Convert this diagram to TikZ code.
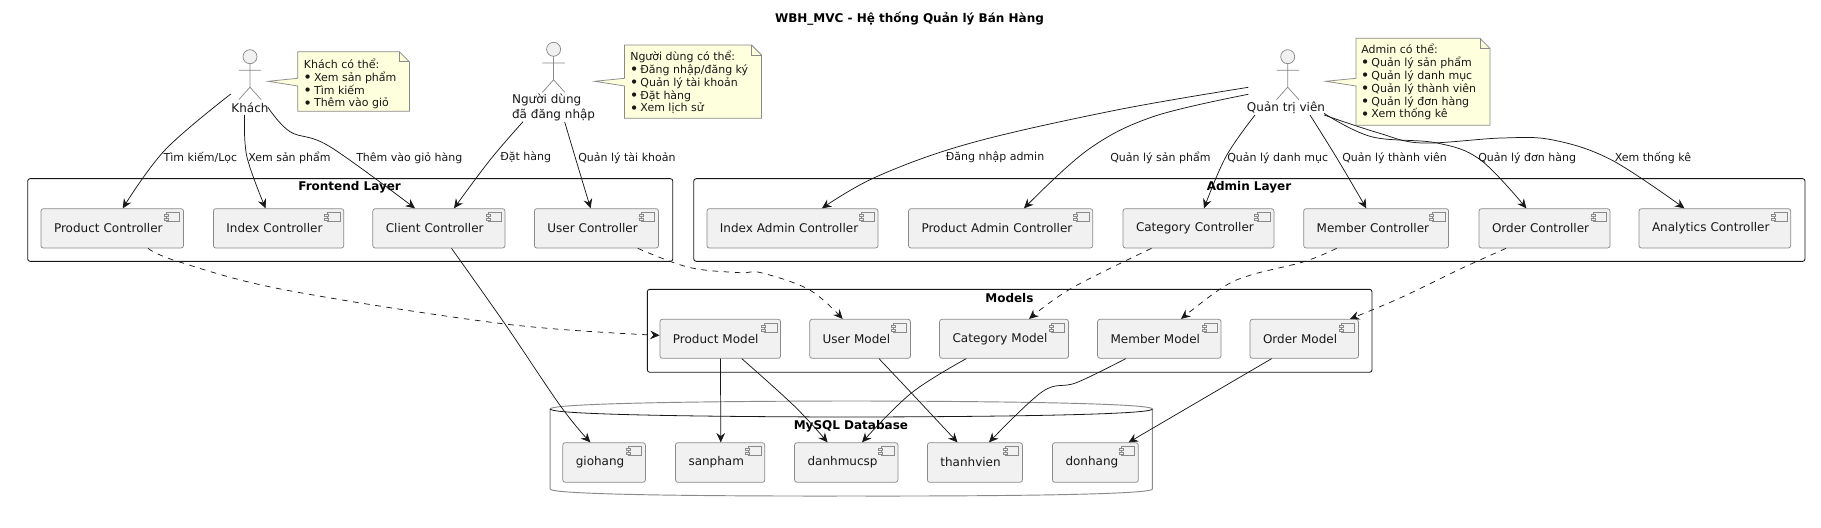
\documentclass[tikz,border=0pt]{standalone}
\usepackage{fontspec}
\setmainfont{DejaVu Sans}
\usetikzlibrary{arrows.meta,calc}
\definecolor{boxfill}{HTML}{F1F1F1}
\definecolor{boxline}{HTML}{8A8A8A}
\definecolor{notefill}{HTML}{FEFFDD}
\definecolor{inkc}{HTML}{181818}
\tikzset{
  frame/.style={draw=inkc,line width=0.65pt,rounded corners=1.8pt},
  compbox/.style={draw=boxline,fill=boxfill,line width=0.55pt,rounded corners=1.8pt,inner ysep=0pt,inner xsep=9.75pt,align=left,font=\fontsize{9}{11}\selectfont,text=inkc},
  iconp/.style={draw=boxline,fill=boxfill,line width=0.45pt},
  ftitle/.style={font=\bfseries\fontsize{9}{11}\selectfont,inner sep=0pt,text=black},
  elabel/.style={font=\fontsize{8.25}{10}\selectfont,anchor=west,inner sep=0pt,text=inkc},
  actorlabel/.style={font=\fontsize{9}{11.25}\selectfont,align=left,inner sep=0pt,text=inkc},
  notetext/.style={font=\fontsize{8.25}{9.65}\selectfont,align=left,anchor=west,inner sep=0pt,text=inkc},
  notebody/.style={draw=boxline,fill=notefill,line width=0.55pt},
  stick/.style={draw=boxline,line width=0.55pt},
  flow/.style={draw=inkc,line width=0.55pt,-{Stealth[length=7pt,width=6.5pt,inset=2.4pt]}},
  dep/.style={flow,dash pattern=on 4.2pt off 4.2pt},
}
\newcommand\nb{\hspace{-0.3pt}{\fontsize{11}{0}\selectfont\raisebox{-1pt}{•}}\hspace{1.45pt}}
\newcommand\comp[6]{%
  \pgfmathsetmacro\cxx{(#2+#3)/2}\pgfmathsetmacro\cyy{(#4+#5)/2}%
  \pgfmathsetmacro\tww{(#3-#2-26)*0.75}\pgfmathsetmacro\hhh{(#5-#4)*0.75}%
  \node[compbox,text width=\tww pt,minimum height=\hhh pt] (#1) at (\cxx,\cyy) {\raisebox{-2.7pt}{#6}};
  \draw[iconp] (#3-16.8,#4+3.6) rectangle (#3-3.8,#4+13);
  \draw[iconp] (#3-19.2,#4+5.6) rectangle (#3-15.2,#4+8);
  \draw[iconp] (#3-19.2,#4+9.6) rectangle (#3-15.2,#4+12);
}
\newcommand\actorfig[2]{% x, head centre y
  \draw[stick,fill=boxfill] (#1,#2) circle (7);
  \draw[stick] (#1,#2+7) -- (#1,#2+30.5) (#1-11.2,#2+13.6) -- (#1+11.2,#2+13.6)
    (#1-11.2,#2+43) -- (#1,#2+30.5) -- (#1+11.2,#2+43);
}
\newcommand\notebox[5]{% x0 x1 y0 y1 tipx
  \draw[notebody] (#1,#3) -- (#1,78.3) -- (#5,81.3) -- (#1,86) -- (#1,#4) -- (#2,#4) -- (#2,#3+10) -- (#2-10,#3) -- cycle;
  \draw[notebody,fill=none] (#2-10,#3) -- (#2-10,#3+10) -- (#2,#3+10);
}
\begin{document}
\begin{tikzpicture}[x=0.75pt,y=-0.75pt]
\fill[white] (0,0) rectangle (1821,528);
\useasboundingbox (0,0) rectangle (1821,528);
% title
\node[font=\bfseries\fontsize{9}{11}\selectfont,inner sep=0pt] (title) at (909.5,18.3) {WBH\_MVC - Hệ thống Quản lý Bán Hàng};
% frames
\node[frame,minimum width=483.8pt,minimum height=62pt,inner sep=0pt] (frontend) at (350.25,220) {};
\node[frame,minimum width=833.4pt,minimum height=62pt,inner sep=0pt] (adminlayer) at (1249.4,220) {};
\node[frame,minimum width=543.5pt,minimum height=62.2pt,inner sep=0pt] (models) at (1009.65,330.8) {};
% database
\draw[draw=boxline,line width=0.7pt]
  (550.2,409) .. controls (550.2,401) and (851.3,401) .. (851.3,401) .. controls (851.3,401) and (1152.4,401) .. (1152.4,409)
  -- (1152.4,489) .. controls (1152.4,497) and (851.3,496) .. (851.3,496) .. controls (851.3,496) and (550.2,497) .. (550.2,489) -- cycle;
\draw[draw=inkc,line width=0.6pt]
  (550.2,409) .. controls (550.2,417) and (851.3,417) .. (851.3,417) .. controls (851.3,417) and (1152.4,417) .. (1152.4,409);
% frame titles
\node[ftitle] (frontendT) at (349.6,187) {Frontend Layer};
\node[ftitle] (adminT) at (1249,187) {Admin Layer};
\node[ftitle] (modelsT) at (1009.4,298) {Models};
\node[ftitle] (dbT) at (850.9,426.7) {MySQL Database};
% components
\comp{pc}{41}{183.5}{208.7}{248}{Product Controller}
\comp{ic}{213.4}{343.8}{208.7}{248}{Index Controller}
\comp{cc}{372.8}{505}{208.7}{248}{Client Controller}
\comp{uc}{534.4}{658.5}{208.7}{248}{User Controller}
\comp{iac}{706.9}{878}{208.7}{248}{Index Admin Controller}
\comp{pac}{908.5}{1092.7}{208.7}{248}{Product Admin Controller}
\comp{cac}{1123}{1273.9}{208.7}{248}{Category Controller}
\comp{mc}{1303.7}{1448.6}{208.7}{248}{Member Controller}
\comp{oc}{1479}{1610}{208.7}{248}{Order Controller}
\comp{ac}{1639}{1790.7}{208.7}{248}{Analytics Controller}
\comp{pm}{659.9}{780.6}{319.3}{358.3}{Product Model}
\comp{um}{809.7}{910.5}{319.3}{358.3}{User Model}
\comp{catm}{939.6}{1068.5}{319.3}{358.3}{Category Model}
\comp{memm}{1097.6}{1221}{319.3}{358.3}{Member Model}
\comp{om}{1250}{1358.4}{319.3}{358.3}{Order Model}
\comp{gio}{562.8}{645.4}{442.7}{482.3}{giohang}
\comp{san}{675.5}{764.8}{442.7}{482.3}{sanpham}
\comp{dm}{794.6}{897.9}{442.7}{482.3}{danhmucsp}
\comp{tv}{927.4}{1022.4}{442.7}{482.3}{thanhvien}
\comp{don}{1052.5}{1138.3}{442.7}{482.3}{donhang}
% actors
\actorfig{250}{56.7}
\actorfig{553.6}{49.3}
\actorfig{1287.7}{56.7}
\node[actorlabel] (khach) at (250,108) {Khách};
\node[actorlabel] (nguoidung) at (553.6,107.5) {Người dùng\\đã đăng nhập};
\node[actorlabel] (qtv) at (1286,108) {Quản trị viên};
% notes
\notebox{297.8}{409.4}{51.7}{111.3}{268}
\notebox{624.6}{761.5}{45}{118.3}{594.6}
\notebox{1356}{1490}{38.3}{125.3}{1325.6}
\node[notetext] (n1) at (303.6,84) {Khách có thể:\\\nb Xem sản phẩm\\\nb Tìm kiếm\\\nb Thêm vào giỏ};
\node[notetext] (n2) at (630,82.4) {Người dùng có thể:\\\nb Đăng nhập/đăng ký\\\nb Quản lý tài khoản\\\nb Đặt hàng\\\nb Xem lịch sử};
\node[notetext] (n3) at (1361,82.2) {Admin có thể:\\\nb Quản lý sản phẩm\\\nb Quản lý danh mục\\\nb Quản lý thành viên\\\nb Quản lý đơn hàng\\\nb Xem thống kê};
% actor to controller
\draw[flow] plot[smooth,tension=.6] coordinates {($(khach)+(-19.2,-14)$) (165,150) ($(pc.north)+(10.5,0)$)};
\draw[flow] plot[smooth,tension=.6] coordinates {($(khach)+(-5.4,7)$) (246.9,156.7) ($(ic.north)+(-13,0)$)};
\draw[flow] plot[smooth,tension=.6] coordinates {($(khach)+(17.9,-.7)$) (290,131.7) (330,146.7) ($(cc.north)+(-23.9,0)$)};
\draw[flow] plot[smooth,tension=.6] coordinates {($(nguoidung)+(-30.6,14.2)$) (490,160) ($(cc.north)+(15.1,0)$)};
\draw[flow] plot[smooth,tension=.6] coordinates {($(nguoidung)+(11.1,14.5)$) (576,160) ($(uc.north)+(-5.85,0)$)};
\draw[flow] plot[smooth,tension=.6] coordinates {($(qtv)+(-37.6,-20.7)$) (1116.7,110) (971,143) (876.5,176.7) ($(iac.north)+(29.55,0)$)};
\draw[flow] plot[smooth,tension=.6] coordinates {($(qtv)+(-37.6,-13.7)$) (1153,116.7) (1087.6,150) ($(pac.north)+(23.4,0)$)};
\draw[flow] plot[smooth,tension=.6] coordinates {($(qtv)+(-31,7)$) (1225.9,156.7) ($(cac.north)+(5.55,0)$)};
\draw[flow] plot[smooth,tension=.6] coordinates {($(qtv)+(24,7)$) (1338,160) ($(mc.north)+(-9.85,0)$)};
\draw[flow] plot[smooth,tension=.6] coordinates {($(qtv)+(38,5.3)$) (1371.4,136.7) (1437,143) (1480.6,160) ($(oc.north)+(-18.1,0)$)};
\draw[flow] plot[smooth,tension=.6] coordinates {($(qtv)+(38,7)$) (1378.7,133) (1422,143) (1502,138) (1553,140) (1611.6,160) ($(ac.north)+(-30.45,0)$)};
% controller to model
\draw[dep] plot[smooth,tension=.6] coordinates {($(pc.south)+(35.75,0)$) (178.6,261.7) (285.7,290) (505,324) ($(pm.west)+(0,-3.5)$)};
\draw[dep] plot[smooth,tension=.6] coordinates {($(uc.south)+(41.35,0)$) (688.8,267.3) (739.8,272.7) (761,272.7) (809.7,290) ($(um.north)+(-17.5,0)$)};
\draw[dep] plot[smooth,tension=.6] coordinates {($(cac.south)+(-47,0)$) (1071.4,288.3) ($(catm.north)+(25,0)$)};
\draw[dep] plot[smooth,tension=.6] coordinates {($(mc.south)+(-39.55,0)$) (1304,261.7) (1250.8,275) (1221.7,288) ($(memm.north)+(21.7,0)$)};
\draw[dep] plot[smooth,tension=.6] coordinates {($(oc.south)+(-38.5,0)$) (1462.4,268) (1400,298) ($(om.north)+(45.8,0)$)};
% to database
\draw[flow] plot[smooth,tension=.6] coordinates {($(cc.south)+(12.6,0)$) (505,324) (561,406.7) ($(gio.north)+(-13.8,0)$)};
\draw[flow] ($(pm.south)+(0.25,0)$) -- ($(san.north)+(0.6,0)$);
\draw[flow] plot[smooth,tension=.6] coordinates {($(pm.south)+(21.55,0)$) (795,406.7) ($(dm.north)+(-18.65,0)$)};
\draw[flow] plot[smooth,tension=.6] coordinates {($(um.south)+(18.9,0)$) (911.4,393) ($(tv.north)+(-17.4,0)$)};
\draw[flow] plot[smooth,tension=.6] coordinates {($(catm.south)+(-37.8,0)$) (911.4,393) ($(dm.north)+(15.75,0)$)};
\draw[flow] plot[smooth,tension=.6] coordinates {($(memm.south)+(-33.6,0)$) (1076.3,382.7) (1042.3,391.7) ($(tv.north)+(14.1,0)$)};
\draw[flow] ($(om.south)+(-32.6,0)$) -- ($(don.north)+(33.2,0)$);
% edge labels
\node[elabel] (l1) at (163.4,157.7) {Tìm kiếm/Lọc};
\node[elabel] (l2) at (248,157.7) {Xem sản phẩm};
\node[elabel] (l3) at (356,157.7) {Thêm vào giỏ hàng};
\node[elabel] (l4) at (500,157.7) {Đặt hàng};
\node[elabel] (l5) at (578,157.7) {Quản lý tài khoản};
\node[elabel] (l6) at (945.6,157.7) {Đăng nhập admin};
\node[elabel] (l7) at (1110,157.7) {Quản lý sản phẩm};
\node[elabel] (l8) at (1227,157.7) {Quản lý danh mục};
\node[elabel] (l9) at (1342,157.7) {Quản lý thành viên};
\node[elabel] (l10) at (1478,157.7) {Quản lý đơn hàng};
\node[elabel] (l11) at (1614.5,157.7) {Xem thống kê};
\end{tikzpicture}
\end{document}
